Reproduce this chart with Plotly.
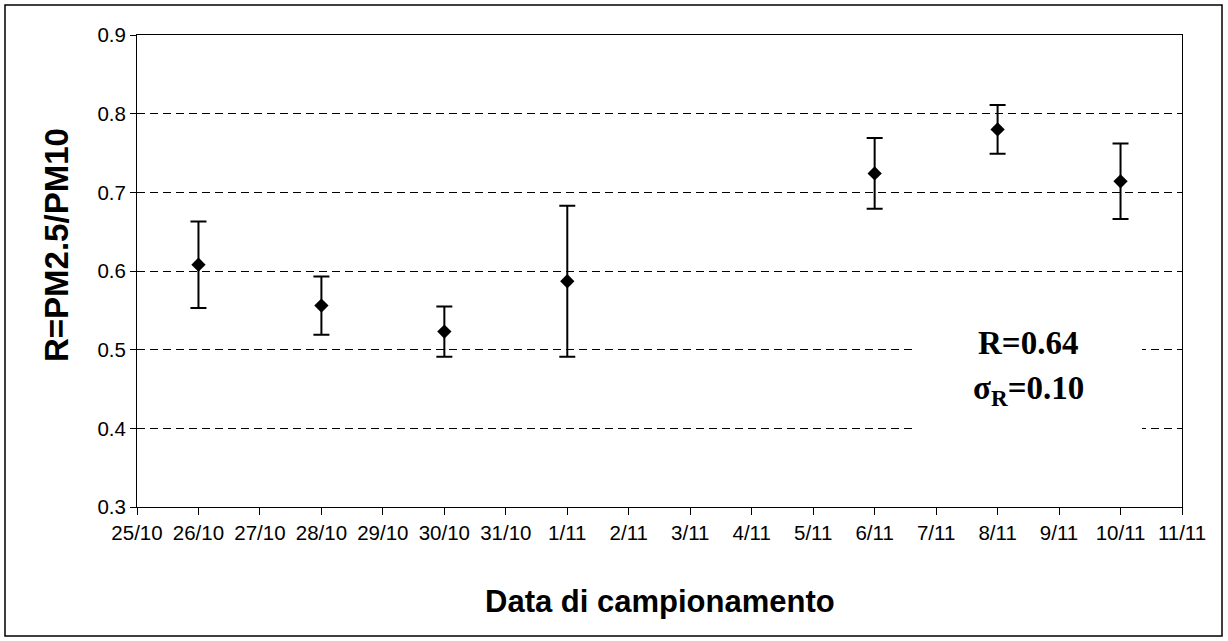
import plotly.graph_objects as go

# Calendar of the sampling campaign (x-axis categories)
days = ["25/10", "26/10", "27/10", "28/10", "29/10", "30/10", "31/10", "1/11",
        "2/11", "3/11", "4/11", "5/11", "6/11", "7/11", "8/11", "9/11",
        "10/11", "11/11"]

# Sampling days with measured PM2.5/PM10 ratio and its uncertainty
sample_days = ["26/10", "28/10", "30/10", "1/11", "6/11", "8/11", "10/11"]
ratio = [0.608, 0.556, 0.523, 0.587, 0.724, 0.780, 0.714]
ratio_err = [0.055, 0.037, 0.032, 0.096, 0.045, 0.031, 0.048]

y_ticks = [0.3, 0.4, 0.5, 0.6, 0.7, 0.8, 0.9]

# Figure geometry in pixels
W, H = 1228, 641
L, R, T, B = 137, 1182, 35, 507


def px(x):
    return (x - L) / (R - L)


def py(y):
    return (B - y) / (B - T)


x_idx = [days.index(d) for d in sample_days]

fig = go.Figure()
fig.add_trace(go.Scatter(
    x=x_idx,
    y=ratio,
    mode="markers",
    marker=dict(symbol="diamond", size=11, color="black"),
    error_y=dict(type="data", array=ratio_err, visible=True,
                 color="black", thickness=2, width=8),
    showlegend=False,
    hoverinfo="skip",
))

tick_font = dict(family="Liberation Sans, Arial", size=20.5, color="black")

fig.update_xaxes(
    range=[0, len(days) - 1],
    tickmode="array",
    tickvals=list(range(len(days))),
    ticktext=days,
    ticks="outside", ticklen=7, tickcolor="black", tickwidth=1,
    showline=True, linecolor="black", linewidth=1, mirror=True,
    showgrid=False, zeroline=False,
    tickfont=tick_font,
)
fig.update_yaxes(
    range=[0.3, 0.9],
    tickmode="array",
    tickvals=y_ticks,
    ticktext=[f"{v:.1f}" for v in y_ticks],
    ticks="outside", ticklen=6, tickcolor="black", tickwidth=1,
    showline=True, linecolor="black", linewidth=1, mirror=True,
    showgrid=True, gridcolor="black", gridwidth=1, griddash="8px,5px",
    zeroline=False,
    tickfont=tick_font,
)

shapes = [
    # outer chart frame
    dict(type="rect", xref="paper", yref="paper",
         x0=px(5), x1=px(1222), y0=py(636), y1=py(5),
         line=dict(color="black", width=1.5), fillcolor="rgba(0,0,0,0)",
         layer="above"),
    # white background of the statistics text box
    dict(type="rect", xref="paper", yref="paper",
         x0=px(912), x1=px(1142), y0=py(447), y1=py(303),
         line=dict(width=0), fillcolor="white", layer="above"),
]

stat_font = dict(family="Liberation Serif, Times New Roman", size=33,
                 color="black", weight="bold")

annotations = [
    dict(text="R=0.64", x=px(1028), y=py(343), xref="paper", yref="paper",
         showarrow=False, font=stat_font, xanchor="center", yanchor="middle"),
    dict(text="σ<sub>R</sub>=0.10", x=px(1028), y=py(390), xref="paper",
         yref="paper", showarrow=False, font=stat_font,
         xanchor="center", yanchor="middle"),
    dict(text="Data di campionamento", x=px(660), y=py(601), xref="paper",
         yref="paper", showarrow=False,
         font=dict(family="Liberation Sans, Arial", size=31, color="black",
                   weight="bold"),
         xanchor="center", yanchor="middle"),
    dict(text="R=PM2.5/PM10", x=px(56), y=py(245), xref="paper",
         yref="paper", showarrow=False, textangle=-90,
         font=dict(family="Liberation Sans, Arial", size=33, color="black",
                   weight="bold"),
         xanchor="center", yanchor="middle"),
]

fig.update_layout(
    width=W, height=H,
    margin=dict(l=L, r=W - R, t=T, b=H - B),
    paper_bgcolor="white",
    plot_bgcolor="white",
    shapes=shapes,
    annotations=annotations,
)

fig.write_html("out.html")
